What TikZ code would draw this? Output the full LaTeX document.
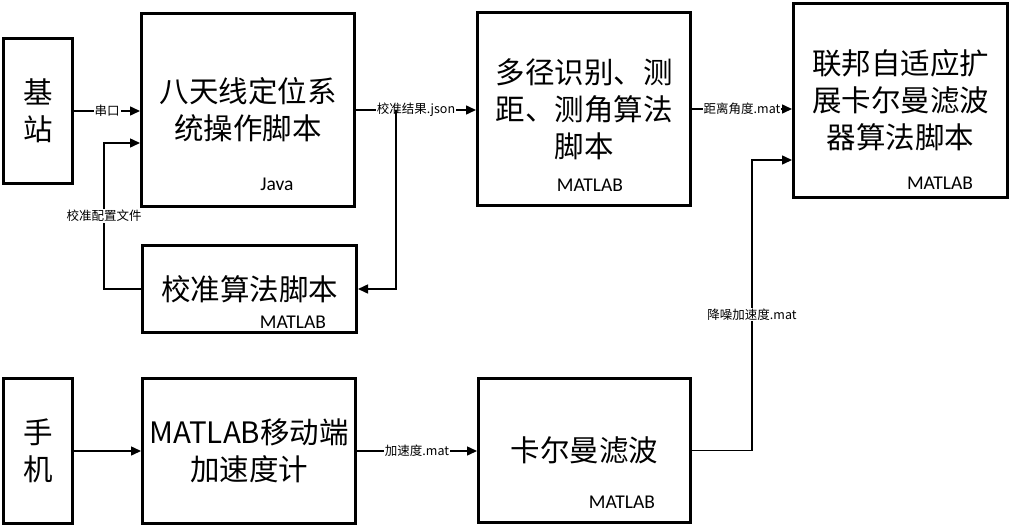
\documentclass[tikz,border=0pt]{standalone}
\usepackage{fontspec}
\setmainfont{Noto Sans CJK SC}
\newfontfamily\tagfont{Carlito}
\usetikzlibrary{arrows.meta}

\begin{document}
\begin{tikzpicture}[x=1pt,y=-1pt,
    block/.style={draw=black, line width=3pt, inner sep=0pt, align=center, font=\fontsize{29.5}{37}\selectfont},
    tag/.style={inner sep=0pt, font=\tagfont\fontsize{19.5}{20}\selectfont},
    link/.style={draw=black, line width=1.5pt, -{Triangle[length=10pt,width=9pt]}},
    note/.style={fill=white, inner sep=1pt, font=\fontsize{12.5}{13}\selectfont}]
    \useasboundingbox (0,0) rectangle (1011,527);
    % upper row
    \node[block, minimum width=69pt, minimum height=145pt] (jz) at (38,111) {基\\站};
    \node[block, minimum width=213pt, minimum height=193pt] (ant) at (248,110) {八天线定位系\\统操作脚本};
    \node[block, minimum width=214pt, minimum height=87pt] (cal) at (249.5,289) {校准算法脚本};
    \node[block, minimum width=213pt, minimum height=193pt] (mp) at (584,109) {多径识别、测\\距、测角算法\\脚本};
    \node[block, minimum width=214pt, minimum height=194pt] (fk) at (900.5,100.5) {联邦自适应扩\\展卡尔曼滤波\\器算法脚本};
    \node[tag] (antlang) at (277,184) {Java};
    \node[tag] (callang) at (293,322) {MATLAB};
    \node[tag] (mplang) at (590,185) {MATLAB};
    \node[tag] (fklang) at (940,183) {MATLAB};
    % lower row
    \node[block, minimum width=69pt, minimum height=145pt] (sj) at (38,451) {手\\机};
    \node[block, minimum width=213pt, minimum height=145pt] (acc) at (249,451) {MATLAB移动端\\加速度计};
    \node[block, minimum width=212pt, minimum height=144pt] (kf) at (584.5,450.5) {卡尔曼滤波};
    \node[tag] (kflang) at (622,502) {MATLAB};
    % links
    \coordinate (cfgin) at (104,143);
    \coordinate (jsonsplit) at (396,110);
    \coordinate (denoise) at (752,160);
    \draw[link] (jz.east) -- node[note]{串口} (jz.east -| ant.west);
    \draw[link] (cal.west) -| node[note, pos=0.75]{校准配置文件} (cfgin) -- (cfgin -| ant.west);
    \draw[link] (ant.east) -- node[note]{校准结果.json} (ant.east -| mp.west);
    \draw[link] (jsonsplit) |- (cal.east);
    \draw[link] (mp.east) -- node[note]{距离角度.mat} (mp.east -| fk.west);
    \draw[link] (sj.east) -- (acc.west);
    \draw[link] (acc.east) -- node[note]{加速度.mat} (acc.east -| kf.west);
    \draw[link] (kf.east) -| node[note, pos=0.734]{降噪加速度.mat} (denoise) -- (denoise -| fk.west);
\end{tikzpicture}
\end{document}
